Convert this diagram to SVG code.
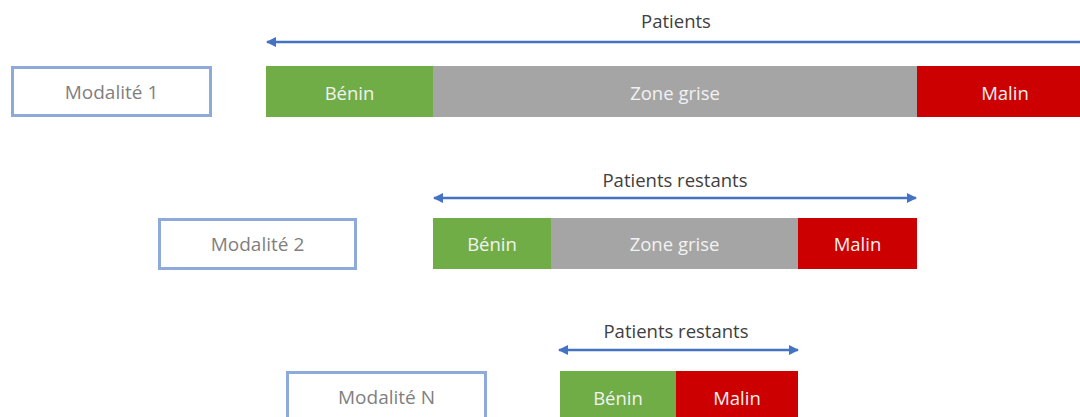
<svg xmlns="http://www.w3.org/2000/svg" width="1080" height="417" viewBox="0 0 1080 417">
<style>
.box{fill:#fff;stroke:#8eaadb;stroke-width:3}
.lbl{font-family:"Open Sans","Liberation Sans",sans-serif;font-size:19px;fill:#7f7f7f;text-anchor:middle;dominant-baseline:central}
.seg{font-family:"Open Sans","Liberation Sans",sans-serif;font-size:18.5px;fill:#f2f2f2;text-anchor:middle;dominant-baseline:central}
.cap{font-family:"Open Sans","Liberation Sans",sans-serif;font-size:18.5px;fill:#404040;text-anchor:middle;dominant-baseline:central}
.conn{stroke:#4472c4;stroke-width:2.5;fill:none}
.g{fill:#70ad47}.x{fill:#a5a5a5}.r{fill:#cc0000}
</style>
<defs>
<marker id="ah" viewBox="0 0 10 10" refX="9" refY="5" markerWidth="4" markerHeight="4" orient="auto-start-reverse">
<path d="M0,0 L10,5 L0,10 z" fill="#4472c4"/>
</marker>
</defs>
<g id="connectors">
<line class="conn" x1="1082" y1="42" x2="267" y2="42" marker-end="url(#ah)"/>
<line class="conn" x1="434" y1="198" x2="916" y2="198" marker-start="url(#ah)" marker-end="url(#ah)"/>
<line class="conn" x1="559" y1="350" x2="798" y2="350" marker-start="url(#ah)" marker-end="url(#ah)"/>
</g>
<g id="cap1"><text class="cap" x="676" y="20">Patients</text></g>
<g id="cap2"><text class="cap" x="675" y="179">Patients restants</text></g>
<g id="cap3"><text class="cap" x="676" y="330">Patients restants</text></g>
<g id="mod1"><rect class="box" x="12.5" y="67.5" width="198" height="48"/><text class="lbl" x="111.5" y="92">Modalité 1</text></g>
<g id="mod2"><rect class="box" x="159.5" y="219.5" width="196" height="49"/><text class="lbl" x="257.5" y="244">Modalité 2</text></g>
<g id="modN"><rect class="box" x="287.5" y="372.5" width="198" height="50"/><text class="lbl" x="386.5" y="397">Modalité N</text></g>
<g id="row1">
<rect class="g" x="266" y="66" width="167" height="51"/><text class="seg" x="349.5" y="92">Bénin</text>
<rect class="x" x="433" y="66" width="484" height="51"/><text class="seg" x="675" y="92">Zone grise</text>
<rect class="r" x="917" y="66" width="163" height="51"/><text class="seg" x="1005" y="92">Malin</text>
</g>
<g id="row2">
<rect class="g" x="433" y="218" width="118" height="51"/><text class="seg" x="492" y="243">Bénin</text>
<rect class="x" x="551" y="218" width="247" height="51"/><text class="seg" x="674.5" y="243">Zone grise</text>
<rect class="r" x="798" y="218" width="119" height="51"/><text class="seg" x="857.5" y="243">Malin</text>
</g>
<g id="row3">
<rect class="g" x="560" y="371" width="116" height="46"/><text class="seg" x="618" y="397">Bénin</text>
<rect class="r" x="676" y="371" width="122" height="46"/><text class="seg" x="737" y="397">Malin</text>
</g>
</svg>
